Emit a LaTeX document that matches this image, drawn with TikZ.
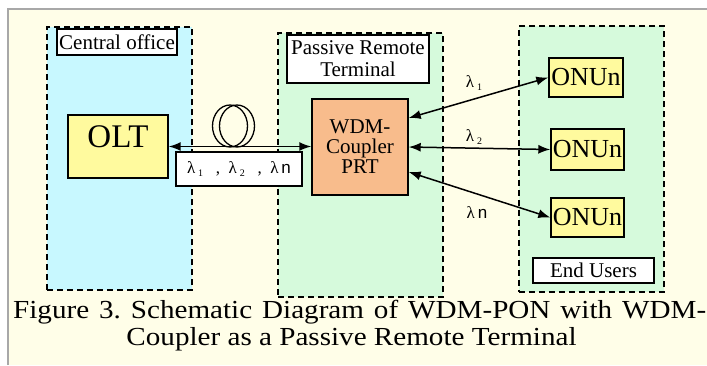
\documentclass[tikz,border=0pt]{standalone}
\usepackage{fontspec}
\setmainfont{Liberation Serif}
\newfontfamily\arfont{Liberation Sans}
\newfontfamily\capfont[FakeStretch=1.12]{Liberation Serif}
\usetikzlibrary{arrows.meta}
\definecolor{bgyellow}{HTML}{FFFEE8}
\definecolor{cyanfill}{HTML}{C8F8FF}
\definecolor{greenfill}{HTML}{D6FADC}
\definecolor{yellowbox}{HTML}{FFFA9E}
\definecolor{orangebox}{HTML}{F8BC8C}
\definecolor{framegray}{HTML}{A8A8A8}
\newcommand{\lam}[1]{λ\,\raisebox{-3pt}{\fontsize{10}{10}\selectfont #1}}
\begin{document}
\frenchspacing
\begin{tikzpicture}[x=1pt,y=-1pt,
  region/.style={draw=black, dashed, dash pattern=on 6pt off 4pt, line width=1.4pt, inner sep=0pt},
  lbl/.style={draw=black, fill=white, line width=1.2pt, inner sep=0pt, align=center},
  box/.style={draw=black, line width=1.4pt, inner sep=0pt, align=center},
  biarrow/.style={line width=1.5pt, {Latex[length=12pt,width=9pt]}-{Latex[length=12pt,width=9pt]}},
  lamlbl/.style={inner sep=0pt, font=\fontsize{17}{17}\selectfont},
  captxt/.style={inner sep=0pt, font=\capfont\fontsize{26}{26}\selectfont}
]
\useasboundingbox (0,0) rectangle (707,365);
\fill[white] (0,0) rectangle (707,365);
\fill[bgyellow] (8,9) rectangle (707,365);
\draw[framegray, line width=1.5pt] (8,365) -- (8,9) -- (707,9);

% regions
\node[region, fill=cyanfill, minimum width=145pt, minimum height=263pt] (co) at (119.5,158.5) {};
\node[region, fill=greenfill, minimum width=165pt, minimum height=264pt] (prt) at (360.5,165) {};
\node[region, fill=greenfill, minimum width=145pt, minimum height=266pt] (eu) at (591.5,159) {};

% region labels
\node[lbl, minimum width=120pt, minimum height=26pt, font=\fontsize{21}{21}\selectfont] (coLabel) at (117,42) {Central office};
\node[lbl, minimum width=142pt, minimum height=48pt, font=\fontsize{21}{22}\selectfont] (prtLabel) at (358,59) {Passive Remote\\Terminal};
\node[lbl, minimum width=121pt, minimum height=25pt, font=\fontsize{21}{21}\selectfont] (euLabel) at (593.5,270.5) {End Users};

% boxes
\node[box, fill=yellowbox, minimum width=100pt, minimum height=63pt] (olt) at (118,146.5) {};
\node[inner sep=0pt, font=\fontsize{33}{33}\selectfont] (oltTxt) at (118,137) {OLT};
\node[box, fill=orangebox, minimum width=96pt, minimum height=96pt, font=\fontsize{21}{20}\selectfont] (wdm) at (360,147) {WDM-\\Coupler\\PRT};
\node[box, fill=yellowbox, minimum width=74pt, minimum height=39pt, font=\fontsize{26}{26}\selectfont] (onu1) at (586,77.5) {ONUn};
\node[box, fill=yellowbox, minimum width=73pt, minimum height=41pt, font=\fontsize{26}{26}\selectfont] (onu2) at (587.5,149.5) {ONUn};
\node[box, fill=yellowbox, minimum width=73pt, minimum height=39pt, font=\fontsize{26}{26}\selectfont] (onu3) at (587.5,217.5) {ONUn};

% fiber
\draw[biarrow] (olt.east) -- (olt.east -| wdm.west);
\draw[line width=1.3pt] (230,126) ellipse [x radius=17.5, y radius=21];
\draw[line width=1.3pt] (237,126) ellipse [x radius=17.5, y radius=21];
\node[lbl, minimum width=126pt, minimum height=34pt, font=\fontsize{17}{17}\selectfont] (fibLabel) at (239,169) {\lam{1}\ \ \ ,\ \ \lam{2}\ \ \ ,\ \ λ\,{\arfont n}};

% distribution arrows
\draw[biarrow] ([yshift=29pt]wdm.east) -- (onu1.west);
\draw[biarrow] (wdm.east) -- (onu2.west);
\draw[biarrow] ([yshift=-25pt]wdm.east) -- (onu3.west);
\node[lamlbl] (l1) at (474,83) {\lam{1}};
\node[lamlbl] (l2) at (474,137) {\lam{2}};
\node[lamlbl] (ln) at (477,213) {λ\,{\arfont n}};

% caption
\node[captxt, anchor=west] (cap1) at (13,312) {\makebox[693pt][s]{Figure 3. Schematic Diagram of WDM-PON with WDM-}};
\node[captxt] (cap2) at (351.5,339) {Coupler as a Passive Remote Terminal};
\end{tikzpicture}
\end{document}
